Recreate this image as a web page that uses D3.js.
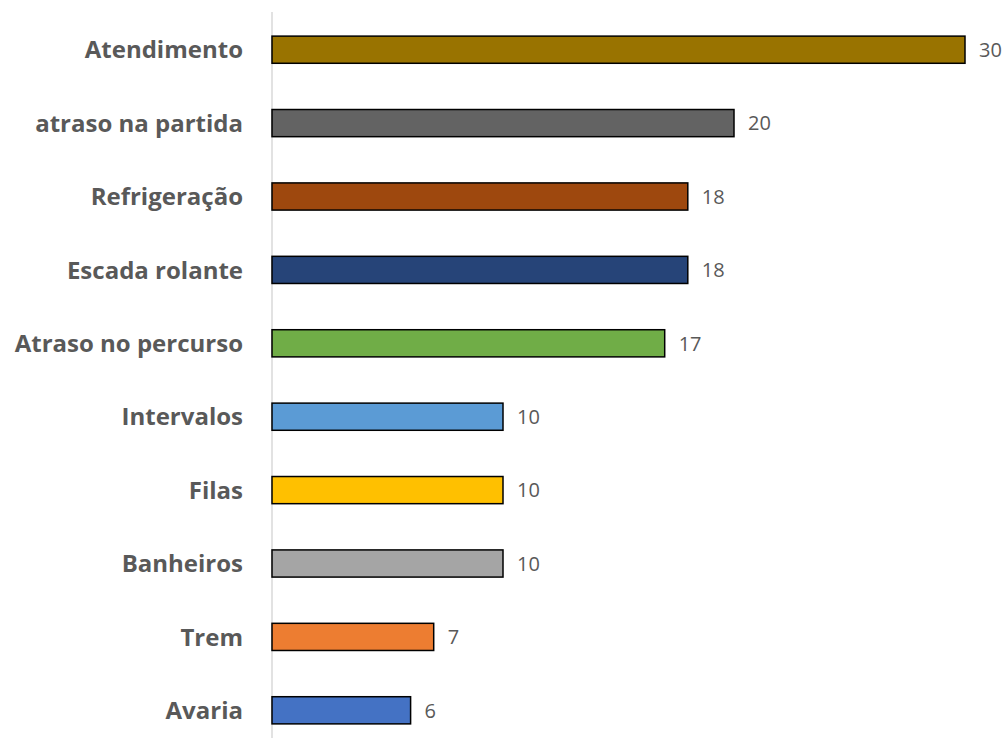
<!DOCTYPE html>
<html>
<head>
<meta charset="utf-8">
<script src="https://cdn.jsdelivr.net/npm/d3@7"></script>
<style>
  body { margin: 0; background: #fff; }
</style>
</head>
<body>
<div id="chart"></div>
<script>
var categories = ["Atendimento", "atraso na partida", "Refrigeração", "Escada rolante",
  "Atraso no percurso", "Intervalos", "Filas", "Banheiros", "Trem", "Avaria"];
var values = [30, 20, 18, 18, 17, 10, 10, 10, 7, 6];
var colors = ["#997300", "#636363", "#9e480e", "#264478", "#70ad47",
  "#5b9bd5", "#ffc000", "#a5a5a5", "#ed7d31", "#4472c4"];

var width = 1008, height = 738;

var svg = d3.select("#chart")
  .append("svg")
  .attr("width", width)
  .attr("height", height);

var x = d3.scaleLinear().domain([0, 30]).range([272, 965]);
var y = d3.scaleBand().domain(categories).range([13, 747]).paddingInner(0.63).paddingOuter(0.315);

// axis line
svg.append("line")
  .attr("x1", x(0)).attr("x2", x(0))
  .attr("y1", 12).attr("y2", height)
  .attr("stroke", "#d9d9d9")
  .attr("stroke-width", 1.5);

svg.selectAll("rect.bar")
  .data(values)
  .enter().append("rect")
  .attr("class", "bar")
  .attr("x", x(0))
  .attr("y", function (d, i) { return y(categories[i]); })
  .attr("width", function (d) { return x(d) - x(0); })
  .attr("height", y.bandwidth())
  .attr("fill", function (d, i) { return colors[i]; })
  .attr("stroke", "#000")
  .attr("stroke-width", 1.5);

svg.selectAll("text.val")
  .data(values)
  .enter().append("text")
  .attr("class", "val")
  .attr("x", function (d) { return x(d) + 14; })
  .attr("y", function (d, i) { return y(categories[i]) + y.bandwidth() / 2; })
  .attr("dy", "0.36em")
  .style("font", "20px 'Open Sans', sans-serif")
  .attr("fill", "#595959")
  .text(function (d) { return d; });

svg.selectAll("text.cat")
  .data(categories)
  .enter().append("text")
  .attr("class", "cat")
  .attr("x", 243)
  .attr("y", function (d) { return y(d) + y.bandwidth() / 2; })
  .attr("dy", "0.36em")
  .attr("text-anchor", "end")
  .style("font", "bold 24px 'Open Sans', sans-serif")
  .attr("fill", "#595959")
  .text(function (d) { return d; });
</script>
</body>
</html>
